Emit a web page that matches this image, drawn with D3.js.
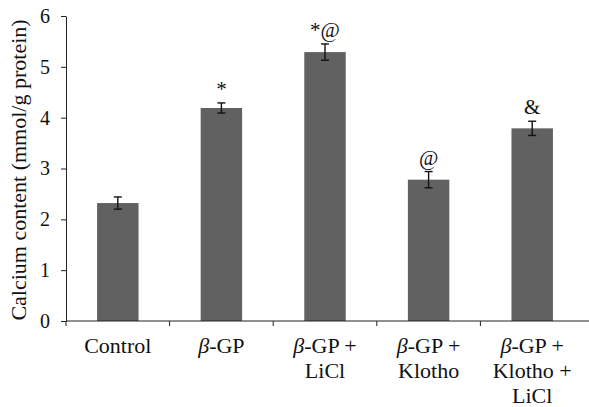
<!DOCTYPE html>
<html><head><meta charset="utf-8">
<script src="https://cdn.jsdelivr.net/npm/d3@7"></script>
<style>body{margin:0;background:#fff}svg{display:block}</style>
</head><body>
<script>
const categories = [["Control"], ["β-GP"], ["β-GP +", "LiCl"], ["β-GP +", "Klotho"], ["β-GP +", "Klotho +", "LiCl"]];
const values = [2.32, 4.19, 5.29, 2.78, 3.79];
const errors = [0.12, 0.10, 0.16, 0.16, 0.14];
const marks = ["", "*", "*@", "@", "&"];
const yTicks = [0, 1, 2, 3, 4, 5, 6];

const W = 589, H = 407;
const left = 66, right = 584;
const svg = d3.select("body").append("svg").attr("width", W).attr("height", H);
const font = "'Liberation Serif', 'DejaVu Serif', serif";

const x = d3.scaleBand().domain(d3.range(categories.length)).range([left, right]).paddingInner(0.6).paddingOuter(0.3);
const xb = d3.scaleBand().domain(d3.range(categories.length)).range([left, right]);
const y = d3.scaleLinear().domain([0, 6]).range([321, 16]);

// bars
svg.selectAll("rect.bar").data(values).join("rect")
  .attr("x", (d, i) => x(i)).attr("width", x.bandwidth())
  .attr("y", d => y(d)).attr("height", d => y(0) - y(d))
  .attr("fill", "#616161");

// error bars
const eg = svg.append("g").attr("stroke", "#111").attr("stroke-width", 1.4);
values.forEach((v, i) => {
  const cx = x(i) + x.bandwidth() / 2;
  eg.append("line").attr("x1", cx).attr("x2", cx).attr("y1", y(v + errors[i])).attr("y2", y(v - errors[i]));
  eg.append("line").attr("x1", cx - 4).attr("x2", cx + 4).attr("y1", y(v + errors[i])).attr("y2", y(v + errors[i]));
  eg.append("line").attr("x1", cx - 4).attr("x2", cx + 4).attr("y1", y(v - errors[i])).attr("y2", y(v - errors[i]));
});

// significance marks
svg.selectAll("text.mark").data(marks).join("text")
  .attr("x", (d, i) => x(i) + x.bandwidth() / 2)
  .attr("y", (d, i) => y(values[i] + errors[i]) - 7)
  .attr("text-anchor", "middle").attr("font-family", font).attr("font-size", 21)
  .attr("fill", "#111").text(d => d);

// y axis
const ya = svg.append("g").attr("transform", `translate(${left},0)`)
  .call(d3.axisLeft(y).tickValues(yTicks).tickSize(5).tickSizeOuter(0).tickFormat(d3.format("d")));
ya.select(".domain").attr("stroke", "#222");
ya.selectAll(".tick line").attr("stroke", "#222");
ya.selectAll(".tick text").attr("font-family", font).attr("font-size", 20).attr("fill", "#111").attr("x", -16);

// x axis
const xa = svg.append("g").attr("transform", `translate(0,${y(0)})`);
xa.append("line").attr("x1", left).attr("x2", W).attr("y1", 0).attr("y2", 0).attr("stroke", "#222");
xb.domain().forEach(i => {
  xa.append("line").attr("x1", xb(i)).attr("x2", xb(i)).attr("y1", 0).attr("y2", 5).attr("stroke", "#222");
});
categories.forEach((lines, i) => {
  const t = xa.append("text").attr("text-anchor", "middle").attr("font-family", font).attr("font-size", 22).attr("fill", "#111");
  lines.forEach((ln, j) => {
    const ts = t.append("tspan").attr("x", xb(i) + xb.bandwidth() / 2).attr("y", 32 + j * 25);
    if (ln.startsWith("β")) {
      ts.append("tspan").attr("font-style", "italic").text("β");
      ts.append("tspan").text(ln.slice(1));
    } else ts.text(ln);
  });
});

// y label
svg.append("text").attr("transform", `translate(26,170) rotate(-90)`)
  .attr("text-anchor", "middle").attr("font-family", font).attr("font-size", 22).attr("fill", "#111")
  .text("Calcium content (mmol/g protein)");
</script>
</body></html>
